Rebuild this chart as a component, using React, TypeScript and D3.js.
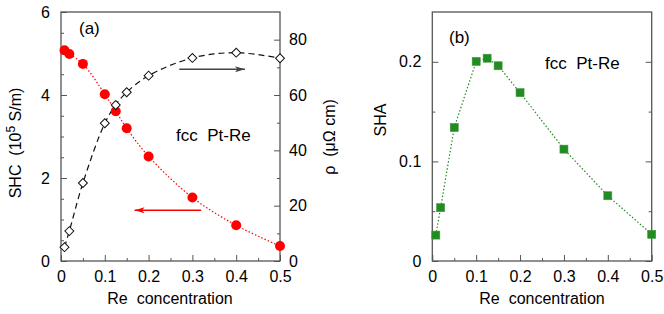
import { useEffect, useRef } from 'react';
import * as d3 from 'd3';

// Re concentration (x) shared by both panels
const concentration = [0.008, 0.019, 0.05, 0.1, 0.125, 0.15, 0.2, 0.3, 0.4, 0.5];
// panel (a): spin Hall conductivity, 10^5 S/m
const shc = [5.08, 4.99, 4.75, 4.02, 3.61, 3.2, 2.52, 1.53, 0.86, 0.36];
// panel (a): resistivity, µΩ cm
const rho = [5.0, 10.8, 28.2, 49.8, 56.4, 61.0, 67.0, 73.4, 75.3, 73.3];
// panel (b): spin Hall angle
const sha = [0.026, 0.0535, 0.134, 0.2004, 0.2036, 0.196, 0.169, 0.1123, 0.0655, 0.0268];

const xTicks = [0, 0.1, 0.2, 0.3, 0.4, 0.5];
const xMinor = [0.05, 0.15, 0.25, 0.35, 0.45];
const shcTicks = [0, 2, 4, 6];
const shcMinor = [0.5, 1, 1.5, 2.5, 3, 3.5, 4.5, 5, 5.5];
const rhoTicks = [0, 20, 40, 60, 80];
const rhoMinor = [10, 30, 50, 70];
const shaTicks = [0, 0.1, 0.2];
const shaMinor = [0.05, 0.15];

const FONT = '"Liberation Sans", Arial, Helvetica, sans-serif';
const FRAME = '#555';

const App = () => {
    const svgRef = useRef(null);

    useEffect(() => {
        const svg = d3.select(svgRef.current);
        svg.selectAll('*').remove();

        const fmt = (d) => String(d);

        const tidy = (sel) => {
            sel.select('.domain').remove();
            sel.selectAll('line').attr('stroke', FRAME).attr('stroke-width', 1);
            sel.selectAll('text')
                .attr('fill', '#000')
                .style('font-family', FONT)
                .style('font-size', '16px');
        };

        const defs = svg.append('defs');
        const marker = (id, color) => {
            defs.append('marker')
                .attr('id', id)
                .attr('markerUnits', 'userSpaceOnUse')
                .attr('markerWidth', 11)
                .attr('markerHeight', 7)
                .attr('refX', 10)
                .attr('refY', 3.5)
                .attr('orient', 'auto')
                .append('path')
                .attr('d', 'M0,0.5 L10,3.5 L0,6.5 L2.5,3.5 Z')
                .attr('fill', color);
        };
        marker('headBlack', '#444');
        marker('headRed', '#ff0000');

        // ---------- panel (a) ----------
        const xA = d3.scaleLinear().domain([0, 0.5]).range([61, 280]);
        const yA = d3.scaleLinear().domain([0, 6]).range([261, 12]);
        const y2A = d3.scaleLinear().domain([0, 90]).range([261, 12]);

        const a = svg.append('g');

        a.append('g').attr('transform', 'translate(0,261)')
            .call(d3.axisBottom(xA).tickValues(xTicks).tickSize(-6).tickPadding(10).tickFormat(fmt))
            .call(tidy);
        a.append('g').attr('transform', 'translate(0,261)')
            .call(d3.axisBottom(xA).tickValues(xMinor).tickSize(-3).tickFormat(() => ''))
            .call(tidy);
        a.append('g').attr('transform', 'translate(61,0)')
            .call(d3.axisLeft(yA).tickValues(shcTicks).tickSize(-6).tickPadding(11).tickFormat(fmt))
            .call(tidy);
        a.append('g').attr('transform', 'translate(61,0)')
            .call(d3.axisLeft(yA).tickValues(shcMinor).tickSize(-3).tickFormat(() => ''))
            .call(tidy);
        a.append('g').attr('transform', 'translate(280,0)')
            .call(d3.axisRight(y2A).tickValues(rhoTicks).tickSize(-6).tickPadding(9).tickFormat(fmt))
            .call(tidy);
        a.append('g').attr('transform', 'translate(280,0)')
            .call(d3.axisRight(y2A).tickValues(rhoMinor).tickSize(-3).tickFormat(() => ''))
            .call(tidy);

        a.append('rect')
            .attr('x', 61).attr('y', 12).attr('width', 219).attr('height', 249)
            .attr('fill', 'none').attr('stroke', FRAME).attr('stroke-width', 1.3);

        const rhoLine = d3.line()
            .x((d, i) => xA(concentration[i]))
            .y((d) => y2A(d))
            .curve(d3.curveCatmullRom);
        a.append('path').datum(rho)
            .attr('d', rhoLine)
            .attr('fill', 'none').attr('stroke', '#111').attr('stroke-width', 1.2)
            .attr('stroke-dasharray', '6,4');

        const shcLine = d3.line()
            .x((d, i) => xA(concentration[i]))
            .y((d) => yA(d))
            .curve(d3.curveCatmullRom);
        a.append('path').datum(shc)
            .attr('d', shcLine)
            .attr('fill', 'none').attr('stroke', '#ff0000').attr('stroke-width', 1.2)
            .attr('stroke-dasharray', '1.5,2');

        a.append('g').selectAll('circle')
            .data(shc)
            .join('circle')
            .attr('cx', (d, i) => xA(concentration[i]))
            .attr('cy', (d) => yA(d))
            .attr('r', 5)
            .attr('fill', '#ff0000');

        const diamond = d3.symbol(d3.symbolSquare, 40)();
        a.append('g').selectAll('path')
            .data(rho)
            .join('path')
            .attr('d', diamond)
            .attr('transform', (d, i) => `translate(${xA(concentration[i])},${y2A(d)}) rotate(45)`)
            .attr('fill', '#fff').attr('stroke', '#111').attr('stroke-width', 1);

        // arrows pointing at each curve's axis
        a.append('line')
            .attr('x1', xA(0.27)).attr('x2', xA(0.42))
            .attr('y1', y2A(69.3)).attr('y2', y2A(69.3))
            .attr('stroke', '#444').attr('stroke-width', 1.5)
            .attr('marker-end', 'url(#headBlack)');
        a.append('line')
            .attr('x1', xA(0.32)).attr('x2', xA(0.168))
            .attr('y1', yA(1.22)).attr('y2', yA(1.22))
            .attr('stroke', '#ff0000').attr('stroke-width', 1.5)
            .attr('marker-end', 'url(#headRed)');

        const txt = (g, x, y, s, size = 16) => g.append('text')
            .attr('x', x).attr('y', y)
            .style('font-family', FONT).style('font-size', `${size}px`)
            .attr('fill', '#000')
            .text(s);

        txt(a, 79, 34, '(a)', 17);
        txt(a, 176, 141, 'fcc\u00a0\u00a0Pt-Re', 17);
        txt(a, 170, 304, 'Re\u00a0\u00a0concentration', 16).attr('text-anchor', 'middle');

        const shcLabel = a.append('text')
            .attr('transform', 'translate(21,143) rotate(-90)')
            .attr('text-anchor', 'middle')
            .style('font-family', FONT).style('font-size', '16px');
        shcLabel.append('tspan').text('SHC\u00a0\u00a0(10');
        shcLabel.append('tspan').attr('dy', -6).style('font-size', '12px').text('5');
        shcLabel.append('tspan').attr('dy', 6).text('\u00a0S/m)');

        a.append('text')
            .attr('transform', 'translate(335,137) rotate(-90)')
            .attr('text-anchor', 'middle')
            .style('font-family', FONT).style('font-size', '16px')
            .text('\u03c1\u00a0\u00a0(\u03bc\u03a9 cm)');

        // ---------- panel (b) ----------
        const xB = d3.scaleLinear().domain([0, 0.5]).range([432.3, 651.7]);
        const yB = d3.scaleLinear().domain([0, 0.25]).range([261, 12]);

        const b = svg.append('g');

        b.append('g').attr('transform', 'translate(0,261)')
            .call(d3.axisBottom(xB).tickValues(xTicks).tickSize(-6).tickPadding(10).tickFormat(fmt))
            .call(tidy);
        b.append('g').attr('transform', 'translate(0,261)')
            .call(d3.axisBottom(xB).tickValues(xMinor).tickSize(-3).tickFormat(() => ''))
            .call(tidy);
        b.append('g').attr('transform', 'translate(432.3,0)')
            .call(d3.axisLeft(yB).tickValues(shaTicks).tickSize(-6).tickPadding(11).tickFormat(fmt))
            .call(tidy);
        b.append('g').attr('transform', 'translate(432.3,0)')
            .call(d3.axisLeft(yB).tickValues(shaMinor).tickSize(-3).tickFormat(() => ''))
            .call(tidy);
        b.append('g').attr('transform', 'translate(651.7,0)')
            .call(d3.axisRight(yB).tickValues(shaTicks).tickSize(-6).tickFormat(() => ''))
            .call(tidy);
        b.append('g').attr('transform', 'translate(651.7,0)')
            .call(d3.axisRight(yB).tickValues(shaMinor).tickSize(-3).tickFormat(() => ''))
            .call(tidy);

        b.append('rect')
            .attr('x', 432.3).attr('y', 12).attr('width', 219.4).attr('height', 249)
            .attr('fill', 'none').attr('stroke', FRAME).attr('stroke-width', 1.3);

        const shaLine = d3.line()
            .x((d, i) => xB(concentration[i]))
            .y((d) => yB(d));
        b.append('path').datum(sha)
            .attr('d', shaLine)
            .attr('fill', 'none').attr('stroke', '#228b22').attr('stroke-width', 1.2)
            .attr('stroke-dasharray', '1.5,2');

        b.append('g').selectAll('rect')
            .data(sha)
            .join('rect')
            .attr('x', (d, i) => xB(concentration[i]) - 4)
            .attr('y', (d) => yB(d) - 4)
            .attr('width', 8).attr('height', 8)
            .attr('fill', '#228b22').attr('stroke', '#3c9a3c').attr('stroke-width', 0.6);

        txt(b, 449, 43, '(b)', 17);
        txt(b, 545, 69, 'fcc\u00a0\u00a0Pt-Re', 17);
        txt(b, 542, 304, 'Re\u00a0\u00a0concentration', 16).attr('text-anchor', 'middle');
        b.append('text')
            .attr('transform', 'translate(386,120) rotate(-90)')
            .attr('text-anchor', 'middle')
            .style('font-family', FONT).style('font-size', '16px')
            .text('SHA');
    }, []);

    return (
        <svg ref={svgRef} width="664" height="314"
            style={{ position: 'absolute', left: 0, top: 0, background: '#fff' }}></svg>
    );
};

export default App;
